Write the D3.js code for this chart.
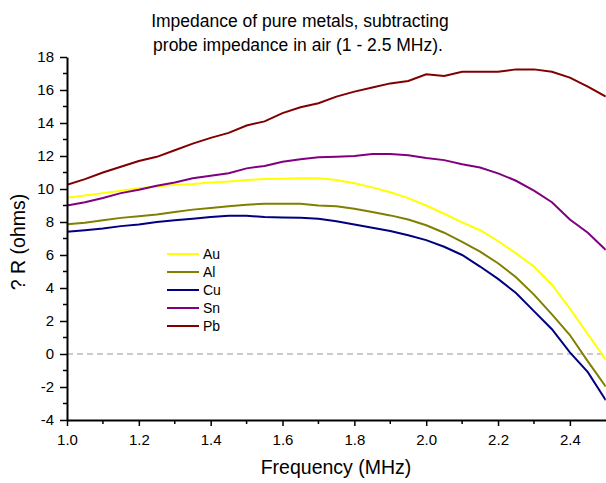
<!DOCTYPE html>
<html>
<head>
<meta charset="utf-8">
<script src="https://cdn.jsdelivr.net/npm/d3@7"></script>
<style>
  body { margin: 0; background: #fff; }
  svg { display: block; font-family: "Liberation Sans", Arial, sans-serif; }
</style>
</head>
<body>
<div id="chart"></div>
<script>
const width = 606;
const height = 483;

const freqs = d3.range(31).map((i) => +(1 + i * 0.05).toFixed(2));

const au = [9.47, 9.6, 9.75, 9.9, 10.05, 10.15, 10.25, 10.3, 10.4, 10.45, 10.55, 10.6, 10.62, 10.65, 10.65, 10.55,
  10.35, 10.1, 9.8, 9.45, 9.0, 8.5, 7.98, 7.5, 6.85, 6.1, 5.3, 4.2, 2.75, 1.2, -0.35];
const al = [7.86, 7.95, 8.1, 8.25, 8.35, 8.45, 8.6, 8.75, 8.85, 8.95, 9.05, 9.1, 9.1, 9.1, 9.0, 8.95,
  8.8, 8.6, 8.4, 8.15, 7.8, 7.35, 6.8, 6.2, 5.5, 4.65, 3.6, 2.4, 1.15, -0.45, -1.98];
const cu = [7.41, 7.5, 7.6, 7.75, 7.85, 8.0, 8.1, 8.2, 8.3, 8.38, 8.38, 8.3, 8.28, 8.26, 8.2, 8.05,
  7.85, 7.65, 7.45, 7.2, 6.9, 6.5, 6.0, 5.3, 4.55, 3.7, 2.6, 1.5, 0.1, -1.1, -2.8];
const sn = [9.0, 9.2, 9.45, 9.75, 9.95, 10.2, 10.4, 10.65, 10.8, 10.95, 11.25, 11.4, 11.65, 11.8, 11.92, 11.95,
  12.0, 12.12, 12.12, 12.05, 11.88, 11.75, 11.5, 11.3, 10.95, 10.5, 9.9, 9.2, 8.15, 7.35, 6.3];
const pb = [10.25, 10.6, 11.0, 11.35, 11.7, 11.95, 12.35, 12.75, 13.1, 13.4, 13.85, 14.1, 14.6, 14.95, 15.2, 15.6,
  15.9, 16.15, 16.4, 16.55, 16.95, 16.85, 17.1, 17.1, 17.1, 17.25, 17.25, 17.1, 16.75, 16.2, 15.6];

const metals = ["Au", "Al", "Cu", "Sn", "Pb"];
const seriesValues = [au, al, cu, sn, pb];
const colors = ["#ffff00", "#808000", "#000080", "#800080", "#800000"];

const margin = { top: 57, right: 0, bottom: 63, left: 67 };

const svg = d3.select("#chart")
  .append("svg")
  .attr("width", width)
  .attr("height", height);

const x = d3.scaleLinear().domain([1.0, 2.5]).range([margin.left, 605.8]);
const y = d3.scaleLinear().domain([-4, 18]).range([height - margin.bottom, margin.top]);

svg.append("clipPath").attr("id", "clip")
  .append("rect")
  .attr("x", margin.left).attr("y", margin.top - 5)
  .attr("width", 605.8 - margin.left).attr("height", y(-4) - margin.top + 5);

// zero line
svg.append("line")
  .attr("x1", x(1.0)).attr("x2", x(2.5))
  .attr("y1", y(0)).attr("y2", y(0))
  .attr("stroke", "#bbbbbb")
  .attr("stroke-width", 1.5)
  .attr("stroke-dasharray", "6,4");

const line = d3.line()
  .x((d, i) => x(freqs[i]))
  .y((d) => y(d));

svg.append("g")
  .attr("clip-path", "url(#clip)")
  .selectAll("path")
  .data(seriesValues)
  .join("path")
  .attr("d", line)
  .attr("fill", "none")
  .attr("stroke", (d, i) => colors[i])
  .attr("stroke-width", 2);

// axes
const xAxis = svg.append("g").attr("transform", `translate(0,${y(-4)})`);
xAxis.call(d3.axisBottom(x).tickValues(d3.range(1.0, 2.45, 0.2)).tickFormat(d3.format(".1f")).tickSize(6).tickSizeOuter(0));
xAxis.append("g").selectAll("line")
  .data(d3.range(1.1, 2.45, 0.2))
  .join("line")
  .attr("x1", (d) => x(d)).attr("x2", (d) => x(d))
  .attr("y1", 0).attr("y2", 4)
  .attr("stroke", "#000").attr("stroke-width", 1.5);

const yAxis = svg.append("g").attr("transform", `translate(${margin.left},0)`);
yAxis.call(d3.axisLeft(y).tickValues(d3.range(-4, 19, 2)).tickFormat((d) => String(d)).tickSize(7).tickSizeOuter(0));
yAxis.append("g").selectAll("line")
  .data(d3.range(-3, 18, 2))
  .join("line")
  .attr("x1", 0).attr("x2", -4)
  .attr("y1", (d) => y(d)).attr("y2", (d) => y(d))
  .attr("stroke", "#000").attr("stroke-width", 1.5);

svg.selectAll(".domain").attr("stroke", "#000").attr("stroke-width", 2);
svg.selectAll(".tick line").attr("stroke", "#000").attr("stroke-width", 1.5);
svg.selectAll(".tick text").attr("font-size", 15).attr("fill", "#000")
  .attr("font-family", "Liberation Sans, Arial, sans-serif");
xAxis.selectAll(".tick text").attr("y", 25).attr("dy", 0);
yAxis.selectAll(".tick text").attr("x", -13);

// titles
svg.append("text")
  .attr("x", 300).attr("y", 27)
  .attr("text-anchor", "middle")
  .attr("font-size", 17.5)
  .text("Impedance of pure metals, subtracting");
svg.append("text")
  .attr("x", 298).attr("y", 51)
  .attr("text-anchor", "middle")
  .attr("font-size", 17.5)
  .text("probe impedance in air (1 - 2.5 MHz).");

svg.append("text")
  .attr("x", 336).attr("y", 474)
  .attr("text-anchor", "middle")
  .attr("font-size", 19.5)
  .text("Frequency (MHz)");

svg.append("text")
  .attr("transform", "translate(25,242) rotate(-90)")
  .attr("text-anchor", "middle")
  .attr("font-size", 19.5)
  .text("? R (ohms)");

// legend
const legend = svg.append("g")
  .selectAll("g")
  .data(metals)
  .join("g")
  .attr("transform", (d, i) => `translate(167,${254 + i * 18})`);

legend.append("line")
  .attr("x1", 0).attr("x2", 32)
  .attr("stroke", (d, i) => colors[i])
  .attr("stroke-width", 2);

legend.append("text")
  .attr("x", 36).attr("y", 5)
  .attr("font-size", 14)
  .text((d) => d);
</script>
</body>
</html>
